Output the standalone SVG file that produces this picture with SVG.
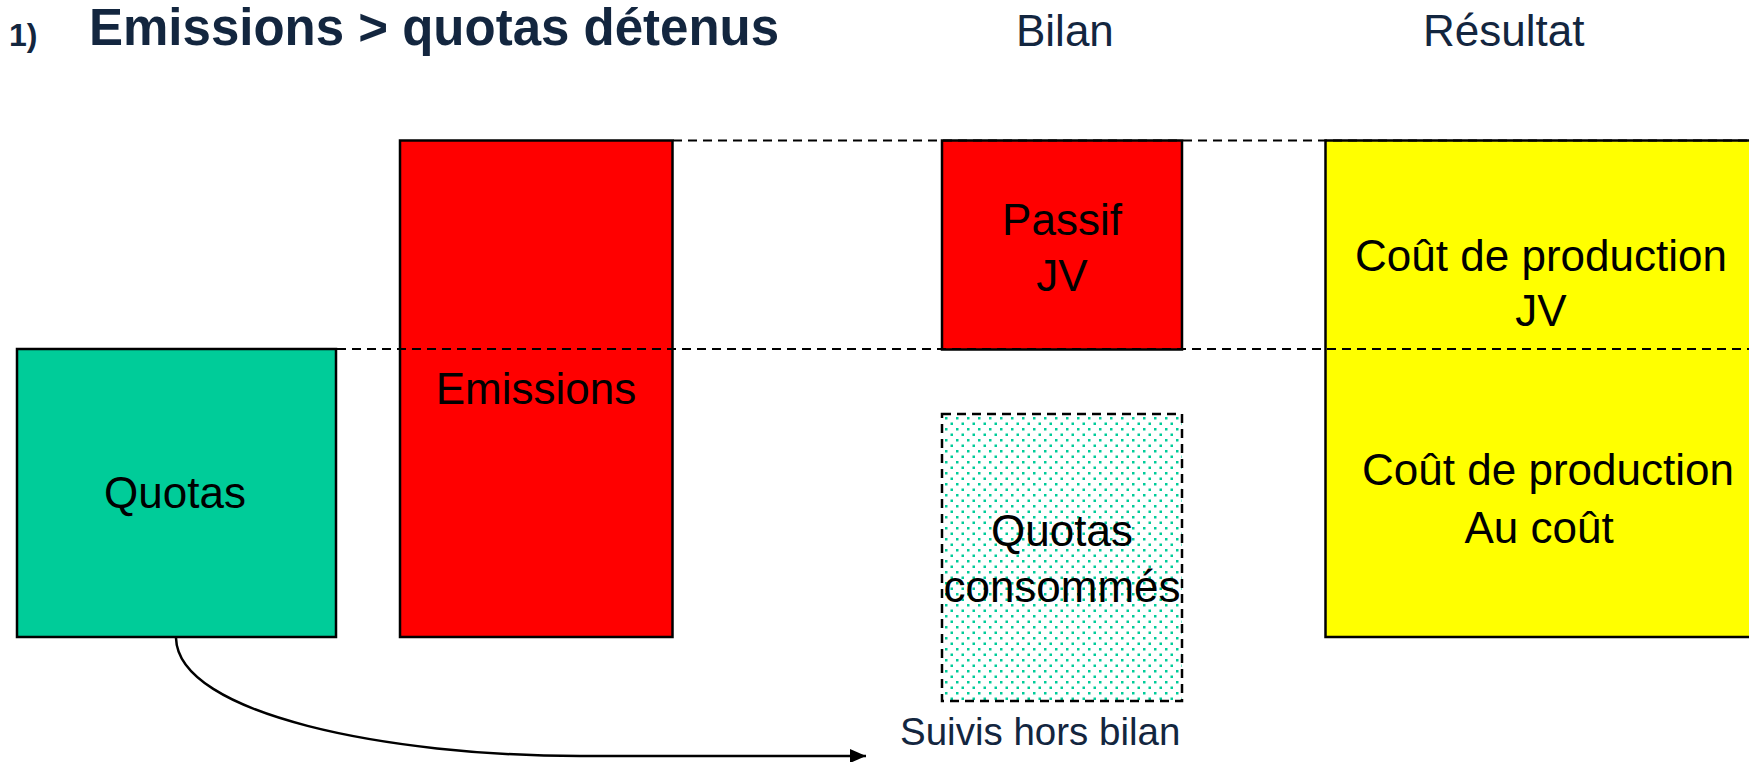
<svg xmlns="http://www.w3.org/2000/svg" width="1749" height="762" viewBox="0 0 1749 762">
<style>
  .box { stroke: #000; stroke-width: 2.5; }
  .lbl { font-family: "Liberation Sans", Arial, sans-serif; font-size: 44px; fill: #000; text-anchor: middle; }
  .hdr { font-family: "Liberation Sans", Arial, sans-serif; fill: #13263F; }
  .guide { stroke: #000; stroke-width: 2; stroke-dasharray: 9 6; fill: none; }
</style>
<defs>
  <pattern id="dots" patternUnits="userSpaceOnUse" x="942" y="414" width="11" height="11">
    <rect width="11" height="11" fill="#fff"/>
    <rect x="3" y="3" width="2.5" height="2.5" fill="#00CC99"/>
    <rect x="8.5" y="8.5" width="2.5" height="2.5" fill="#00CC99"/>
  </pattern>
  <marker id="arrow" markerWidth="16" markerHeight="14" refX="16" refY="7" orient="auto" markerUnits="userSpaceOnUse">
    <path d="M0,0 L16,7 L0,14 Z" fill="#000"/>
  </marker>
</defs>
<rect width="1749" height="762" fill="#fff"/>

<g id="title">
  <text class="hdr" x="9" y="46" font-size="32" font-weight="bold">1)</text>
  <text class="hdr" x="89" y="45" font-size="51" font-weight="bold">Emissions &gt; quotas détenus</text>
  <text class="hdr" x="1016" y="46" font-size="44">Bilan</text>
  <text class="hdr" x="1423" y="46" font-size="44">Résultat</text>
</g>

<g id="quotas">
  <rect class="box" x="17" y="349" width="319" height="288" fill="#00CC99"/>
  <text class="lbl" x="175" y="508">Quotas</text>
</g>

<g id="emissions">
  <rect class="box" x="400" y="140.5" width="272.5" height="496.5" fill="#FF0000"/>
  <text class="lbl" x="536" y="404">Emissions</text>
</g>

<g id="passif">
  <rect class="box" x="942" y="140.5" width="240" height="209" fill="#FF0000"/>
  <text class="lbl" x="1062" y="235">Passif</text>
  <text class="lbl" x="1062" y="291">JV</text>
</g>

<g id="quotas-consommes">
  <rect x="942" y="414" width="240" height="287" fill="url(#dots)" stroke="#000" stroke-width="2.5" stroke-dasharray="9 6"/>
  <text class="lbl" x="1062" y="546">Quotas</text>
  <text class="lbl" x="1062" y="602">consommés</text>
</g>

<g id="suivis">
  <text class="hdr" x="900" y="745" font-size="38.5">Suivis hors bilan</text>
</g>

<g id="resultat">
  <rect class="box" x="1325.5" y="140.5" width="440" height="496.5" fill="#FFFF00"/>
  <text class="lbl" x="1541" y="271">Coût de production</text>
  <text class="lbl" x="1541" y="326">JV</text>
  <text class="lbl" x="1548" y="485">Coût de production</text>
  <text class="lbl" x="1539" y="543">Au coût</text>
</g>

<g id="guides">
  <line class="guide" x1="673" y1="140.5" x2="1749" y2="140.5"/>
  <line class="guide" x1="337" y1="349" x2="1749" y2="349"/>
</g>

<g id="connectors">
  <path d="M176,638 C178,715 390,756 580,756 L866,756" fill="none" stroke="#000" stroke-width="2.5" marker-end="url(#arrow)"/>
</g>
</svg>
